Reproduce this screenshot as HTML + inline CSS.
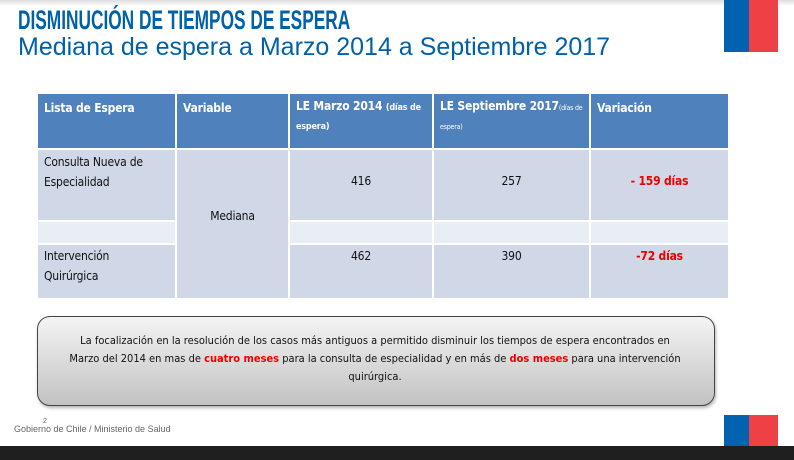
<!DOCTYPE html>
<html><head><meta charset="utf-8"><style>
body{margin:0;width:794px;height:460px;position:relative;overflow:hidden;background:#fff;font-family:"Liberation Sans",sans-serif}
.a{position:absolute}
.c{position:absolute;box-sizing:border-box;font-family:"DejaVu Sans Condensed","Liberation Sans",sans-serif;font-size:12px;letter-spacing:-0.2px;color:#111;line-height:20px}
.h{background:#4f81bd;color:#fff;font-weight:bold;padding:4px 6px}
.l{background:#d0d8e8}
.e{background:#e9edf4}
.r{color:#e00;font-weight:bold}
</style></head><body>
<div class="a" style="left:0;top:0;width:794px;height:6px;background:linear-gradient(#ddd,#fff)"></div>
<div class="a" style="left:18px;top:5px;font-size:27px;font-weight:bold;color:#0060a8;white-space:nowrap;transform:scaleX(0.64);transform-origin:0 0">DISMINUCIÓN DE TIEMPOS DE ESPERA</div>
<div class="a" style="left:18px;top:33px;font-size:25px;color:#0060a8;white-space:nowrap">Mediana de espera a Marzo 2014 a Septiembre 2017</div>
<div class="a" style="left:724px;top:0;width:25px;height:52px;background:#0063b0"></div>
<div class="a" style="left:749px;top:0;width:29px;height:52px;background:#ee4146"></div>

<div class="c h" style="left:38px;top:94px;width:137px;height:54px">Lista de Espera</div>
<div class="c h" style="left:177px;top:94px;width:111px;height:54px">Variable</div>
<div class="c h" style="left:290px;top:94px;width:142px;height:54px;line-height:17px">LE Marzo 2014 <span style="font-size:9px">(días de espera)</span></div>
<div class="c h" style="left:434px;top:94px;width:155px;height:54px;line-height:17px;padding-right:2px">LE Septiembre 2017<span style="font-size:7px;font-weight:normal">(días de espera)</span></div>
<div class="c h" style="left:591px;top:94px;width:137px;height:54px">Variación</div>

<div class="c l" style="left:38px;top:150px;width:137px;height:70px;padding:2px 6px">Consulta Nueva de Especialidad</div>
<div class="c l" style="left:177px;top:150px;width:111px;height:148px;padding-top:56px;text-align:center">Mediana</div>
<div class="c l" style="left:290px;top:150px;width:142px;height:70px;padding-top:21px;text-align:center">416</div>
<div class="c l" style="left:434px;top:150px;width:155px;height:70px;padding-top:21px;text-align:center">257</div>
<div class="c l r" style="left:591px;top:150px;width:137px;height:70px;padding-top:21px;text-align:center">- 159 días</div>

<div class="c e" style="left:38px;top:222px;width:137px;height:21px"></div>
<div class="c e" style="left:290px;top:222px;width:142px;height:21px"></div>
<div class="c e" style="left:434px;top:222px;width:155px;height:21px"></div>
<div class="c e" style="left:591px;top:222px;width:137px;height:21px"></div>

<div class="c l" style="left:38px;top:245px;width:137px;height:53px;padding:1px 6px">Intervención<br>Quirúrgica</div>
<div class="c l" style="left:290px;top:245px;width:142px;height:53px;text-align:center;padding-top:1px">462</div>
<div class="c l" style="left:434px;top:245px;width:155px;height:53px;text-align:center;padding-top:1px">390</div>
<div class="c l r" style="left:591px;top:245px;width:137px;height:53px;text-align:center;padding-top:1px">-72 días</div>

<div class="a" style="left:37px;top:316px;width:676px;height:88px;border:1px solid #444;border-radius:13px;background:linear-gradient(#f4f4f4,#c2c2c2);box-shadow:1px 2px 3px rgba(0,0,0,.3)"></div>
<div class="c" style="left:60px;top:332px;width:630px;text-align:center;font-size:11px;line-height:18px;letter-spacing:0">La focalización en la resolución de los casos más antiguos a permitido disminuir los tiempos de espera encontrados en<br>Marzo del 2014 en mas de <span class="r">cuatro meses</span> para la consulta de especialidad y en más de <span class="r">dos meses</span> para una intervención<br>quirúrgica.</div>

<div class="a" style="left:14px;top:424px;font-size:9px;color:#666">Gobierno de Chile / Ministerio de Salud</div>
<div class="a" style="left:43px;top:418px;font-size:7px;color:#666">2</div>
<div class="a" style="left:724px;top:415px;width:25px;height:31px;background:#0063b0"></div>
<div class="a" style="left:749px;top:415px;width:29px;height:31px;background:#ee4146"></div>
<div class="a" style="left:0;top:446px;width:794px;height:14px;background:#1f1f1f"></div>
</body></html>
